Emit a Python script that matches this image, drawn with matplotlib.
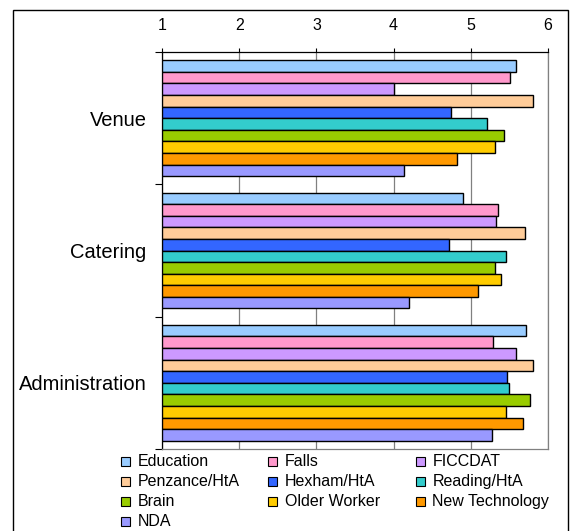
import matplotlib
matplotlib.use("Agg")
import matplotlib.pyplot as plt
from matplotlib.patches import Rectangle
import numpy as np

plt.rcParams['font.family'] = ['Liberation Sans', 'DejaVu Sans']

# Data
categories = ["Venue", "Catering", "Administration"]
series = ["Education", "Falls", "FICCDAT", "Penzance/HtA", "Hexham/HtA",
          "Reading/HtA", "Brain", "Older Worker", "New Technology", "NDA"]
colors = ["#99CCFF", "#FF99CC", "#CC99FF", "#FFCC99", "#3366FF",
          "#33CCCC", "#99CC00", "#FFCC00", "#FF9900", "#9999FF"]
# values[series][category]
venue = [5.58, 5.51, 4.00, 5.80, 4.74, 5.21, 5.43, 5.31, 4.82, 4.13]
catering = [4.90, 5.35, 5.33, 5.70, 4.72, 5.45, 5.31, 5.39, 5.09, 4.20]
administration = [5.72, 5.29, 5.59, 5.80, 5.47, 5.49, 5.77, 5.45, 5.68, 5.27]
x_ticks = [1, 2, 3, 4, 5, 6]

W, H = 573, 531
fig = plt.figure(figsize=(W / 100, H / 100), dpi=100)
ax = fig.add_axes([162 / W, 1 - 449 / H, 386 / W, 397 / H])

values = np.array([venue, catering, administration])  # shape (3, 10)
n = len(series)
group = 0.876
h = group / n
base = np.arange(len(categories))
for j in range(n):
    y = base - group / 2 + h * (j + 0.5)
    ax.barh(y, values[:, j] - 1, left=1, height=h, color=colors[j],
            edgecolor="black", linewidth=1.0, zorder=3)

ax.set_xlim(1, 6)
ax.set_ylim(len(categories) - 0.5, -0.5)

# x axis on top
ax.xaxis.tick_top()
ax.set_xticks(x_ticks)
ax.set_xticklabels([str(t) for t in x_ticks])
ax.tick_params(axis="x", which="major", direction="out", length=3,
               width=0.8, pad=11, labelsize=11.5, colors="black")
ax.grid(axis="x", color="#808080", linewidth=0.9, zorder=0)

# category separators as ticks, labels at centers
ax.set_yticks(np.arange(len(categories) + 1) - 0.5)
ax.set_yticklabels([])
ax.set_yticks(base, minor=True)
ax.set_yticklabels(categories, minor=True)
ax.tick_params(axis="y", which="major", direction="out", length=5, width=0.8)
ax.tick_params(axis="y", which="minor", length=0, pad=11, labelsize=14.5)

for side in ["top", "left"]:
    ax.spines[side].set_color("black")
    ax.spines[side].set_linewidth(0.9)
for side in ["right", "bottom"]:
    ax.spines[side].set_color("#808080")
    ax.spines[side].set_linewidth(0.9)

# legend (row-major, 3 columns)
x0, dx = 125, 147.5
y0, dy = 461.5, 20
s = 9
for i, (name, c) in enumerate(zip(series, colors)):
    row, col = divmod(i, 3)
    cx = x0 + col * dx
    cy = y0 + row * dy
    fig.add_artist(Rectangle(((cx - s / 2) / W, 1 - (cy + s / 2) / H), s / W, s / H,
                             transform=fig.transFigure, facecolor=c,
                             edgecolor="black", linewidth=0.8))
    fig.text((cx + 12.5) / W, 1 - cy / H, name, fontsize=11.5,
             va="center", ha="left")

# outer chart border
fig.add_artist(Rectangle((13 / W, -0.05), (568 - 13) / W, 1 - 10 / H + 0.05,
                         transform=fig.transFigure, fill=False,
                         edgecolor="black", linewidth=1.0))

fig.savefig("out.png", dpi=100)
